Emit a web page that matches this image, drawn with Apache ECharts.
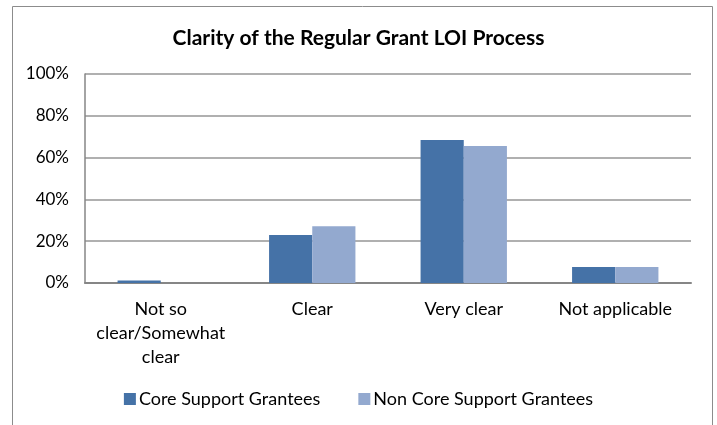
<!DOCTYPE html>
<html>
<head>
<meta charset="utf-8">
<script src="https://cdn.jsdelivr.net/npm/echarts@6/dist/echarts.min.js"></script>
<style>
  html, body { margin: 0; padding: 0; background: #fff; }
  #main { width: 717px; height: 425px; }
</style>
</head>
<body>
<div id="main"></div>
<script>
var categories = ['Not so clear/Somewhat clear', 'Clear', 'Very clear', 'Not applicable'];
var coreValues = [1.2, 23, 68.4, 7.7];      // Core Support Grantees, %
var nonCoreValues = [0, 27.1, 65.5, 7.7];   // Non Core Support Grantees, %
var seriesNames = ['Core Support Grantees', 'Non Core Support Grantees'];
var yTicks = [0, 20, 40, 60, 80, 100];

var myChart = echarts.init(document.getElementById('main'));

var option = {
    backgroundColor: '#ffffff',
    textStyle: { fontFamily: 'Lato' },
    title: {
        text: 'Clarity of the Regular Grant LOI Process',
        left: 'center',
        top: 23,
        textStyle: { fontFamily: 'Lato', fontSize: 21, fontWeight: 'bold', color: '#000' }
    },
    graphic: [{
        type: 'rect',                          // outer chart frame
        shape: { x: 12.5, y: 6.5, width: 700, height: 430 },
        style: { fill: 'none', stroke: '#8c8c8c', lineWidth: 1 },
        silent: true
    }],
    legend: {
        data: seriesNames,
        bottom: 12,
        left: 'center',
        itemWidth: 12,
        itemHeight: 12,
        itemGap: 38,
        icon: 'rect',
        textStyle: { fontFamily: 'Lato', fontSize: 18, color: '#000', padding: [0, 0, 0, -2] }
    },
    grid: { left: 85, right: 26, top: 74, bottom: 142 },
    xAxis: {
        type: 'category',
        data: categories,
        axisTick: { show: false },
        axisLine: { lineStyle: { color: '#868686', width: 2 } },
        axisLabel: {
            interval: 0,
            margin: 14,
            fontFamily: 'Lato',
            fontSize: 18,
            lineHeight: 24,
            color: '#000',
            formatter: function (v) {
                return v.replace('so ', 'so\n').replace('/Somewhat ', '/Somewhat\n');
            }
        }
    },
    yAxis: {
        type: 'value',
        min: yTicks[0],
        max: yTicks[yTicks.length - 1],
        interval: 20,
        axisLine: { show: true, lineStyle: { color: '#868686', width: 1.5 } },
        axisTick: { show: false },
        splitLine: { lineStyle: { color: '#969696', width: 1.5 } },
        axisLabel: {
            margin: 16,
            fontFamily: 'Lato',
            fontSize: 17,
            color: '#000',
            formatter: '{value}%'
        }
    },
    series: [
        {
            name: seriesNames[0],
            type: 'bar',
            data: coreValues,
            barGap: '0%',
            barCategoryGap: '43%',
            itemStyle: { color: '#4572a7' }
        },
        {
            name: seriesNames[1],
            type: 'bar',
            data: nonCoreValues,
            itemStyle: { color: '#93a9cf' }
        }
    ]
};

myChart.setOption(option);
</script>
</body>
</html>
